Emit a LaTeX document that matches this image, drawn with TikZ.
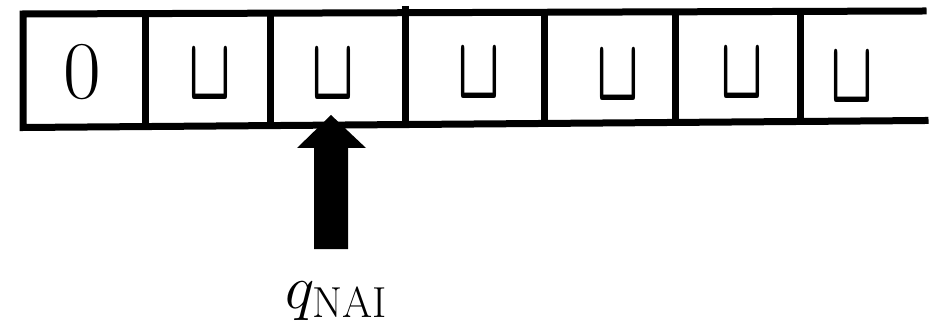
\RequirePackage{fix-cm}
\documentclass[tikz,border=0pt]{standalone}
\usepackage{graphicx}
\begin{document}
\begin{tikzpicture}[x=1pt,y=-1pt,
  tapeline/.style={line width=7pt,line join=miter,line cap=rect},
  divline/.style={line width=7pt},
  sym/.style={inner sep=0pt,font=\fontsize{82}{90}\selectfont},
  blank/.style={inner sep=0pt},
  ptrarrow/.style={fill=black,draw=none},
  lbl/.style={inner sep=0pt,font=\fontsize{62}{72}\selectfont}]
\useasboundingbox (0,0) rectangle (935,326);
% tape outline
\coordinate (tr) at (923,11);
\coordinate (tl) at (23,14);
\coordinate (bl) at (23,127.5);
\coordinate (br) at (925,120.5);
\draw[tapeline] (tr) -- (tl) -- (bl) -- (br);
% dividers
\draw[divline] (145,13.6) -- (145,126.6);
\draw[divline] (270,13.2) -- (270,125.6);
\draw[divline] (405,6) -- (405,124.5);
\draw[divline] (544,12.3) -- (544,123.5);
\draw[divline] (675,11.8) -- (675,122.4);
\draw[divline] (800,11.4) -- (800,125);
% cell contents
\newcommand{\blanksym}{\resizebox*{43pt}{49pt}{\fontsize{60}{70}\selectfont\boldmath$\sqcup$}}
\node[sym] (c1) at (82,72.5) {0};
\node[blank] (c2) at (210,75) {\blanksym};
\node[blank] (c3) at (333,75) {\blanksym};
\node[blank] (c4) at (479,74) {\blanksym};
\node[blank] (c5) at (618,75.5) {\blanksym};
\node[blank] (c6) at (742,74.5) {\blanksym};
\node[blank] (c7) at (852,77.5) {\blanksym};
% pointer arrow
\fill[ptrarrow] (331,115) -- (366,148) -- (348,148) -- (348,249) -- (314,249) -- (314,148) -- (297,148) -- cycle;
\node[lbl] (lab) at (336,301) {$q_{\mathrm{NAI}}$};
\end{tikzpicture}
\end{document}
